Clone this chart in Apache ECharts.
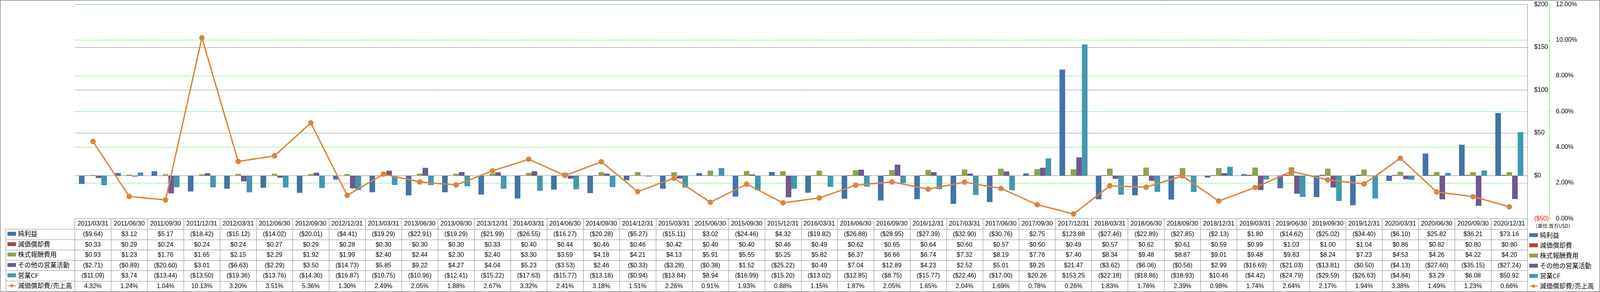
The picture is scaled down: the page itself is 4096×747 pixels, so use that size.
<!DOCTYPE html>
<html><head><meta charset="utf-8">
<script src="https://cdn.jsdelivr.net/npm/echarts@6/dist/echarts.min.js"></script>
<style>html,body{margin:0;padding:0;background:#fff;overflow:hidden}#c{width:4096px;height:747px}</style>
</head><body><div id="c"></div>
<script>
// ---- data ----
const categories = ['2011/03/31','2011/06/30','2011/09/30','2011/12/31','2012/03/31','2012/06/30','2012/09/30','2012/12/31','2013/03/31','2013/06/30','2013/09/30','2013/12/31','2014/03/31','2014/06/30','2014/09/30','2014/12/31','2015/03/31','2015/06/30','2015/09/30','2015/12/31','2016/03/31','2016/06/30','2016/09/30','2016/12/31','2017/03/31','2017/06/30','2017/09/30','2017/12/31','2018/03/31','2018/06/30','2018/09/30','2018/12/31','2019/03/31','2019/06/30','2019/09/30','2019/12/31','2020/03/31','2020/06/30','2020/09/30','2020/12/31'];
const netIncome = [-9.64,3.12,5.17,-18.42,-15.12,-14.02,-20.01,-4.41,-19.29,-22.91,-19.29,-21.99,-26.55,-16.27,-20.28,-5.27,-15.11,3.02,-24.46,4.32,-19.82,-26.88,-28.95,-27.39,-32.90,-30.76,2.75,123.88,-27.46,-22.89,-27.85,-2.13,1.80,-14.62,-25.02,-34.40,-6.10,25.82,36.21,73.16];
const depreciation = [0.33,0.29,0.24,0.24,0.24,0.27,0.29,0.28,0.30,0.30,0.30,0.33,0.40,0.44,0.46,0.46,0.42,0.40,0.40,0.46,0.49,0.62,0.65,0.64,0.60,0.57,0.50,0.49,0.57,0.62,0.61,0.59,0.99,1.03,1.00,1.04,0.86,0.82,0.80,0.80];
const stockComp = [0.93,1.23,1.76,1.65,2.15,2.29,1.92,1.99,2.40,2.44,2.30,2.40,3.30,3.59,4.18,4.21,4.13,5.91,5.55,5.25,5.82,6.37,6.66,6.74,7.32,8.19,7.76,7.40,8.34,9.48,8.87,9.01,9.48,9.83,8.24,7.23,4.53,4.26,4.22,4.20];
const otherOps = [-2.71,-0.89,-20.60,3.01,-6.63,-2.29,3.50,-14.73,5.85,9.22,4.27,4.04,5.23,-3.53,2.46,-0.33,-3.28,-0.38,1.52,-25.22,0.49,7.04,12.89,4.23,2.52,5.01,9.25,21.47,-3.62,-6.06,-0.56,2.99,-16.69,-21.03,-13.81,-0.50,-4.13,-27.60,-35.15,-27.24];
const operatingCF = [-11.09,3.74,-13.44,-13.50,-19.36,-13.76,-14.30,-16.87,-10.75,-10.96,-12.41,-15.22,-17.63,-15.77,-13.18,-0.94,-13.84,8.94,-16.99,-15.20,-13.02,-12.85,-8.75,-15.77,-22.46,-17.00,20.26,153.25,-22.18,-18.86,-18.93,10.46,-4.42,-24.79,-29.59,-26.63,-4.84,3.29,6.08,50.92];
const deprRatio = [4.32,1.24,1.04,10.13,3.20,3.51,5.36,1.30,2.49,2.05,1.88,2.67,3.32,2.41,3.18,1.51,2.26,0.91,1.93,0.88,1.15,1.87,2.05,1.65,2.04,1.69,0.78,0.26,1.83,1.76,2.39,0.98,1.74,2.64,2.17,1.94,3.38,1.49,1.23,0.66];
const seriesNames = ['純利益','減価償却費','株式報酬費用','その他の営業活動','営業CF','減価償却費/売上高'];
const usdAxis = [-50, 200, 50];   // min, max, interval
const pctAxis = [0, 12, 2];       // min, max, interval
const unitLabel = '（単位:百万USD）';

// ---- style / layout ----
const colors = ['#4572A7','#AA4643','#89A54E','#71588F','#4198AF','#DB843D'];
const GRAY = '#888888', GREEN = '#00e000';
const FONT = "'Liberation Sans', Arial, sans-serif";
const JFONT = "'Noto Sans CJK JP', sans-serif";
const gridLeft = 191.4, gridRightX = 3910.4, gridTop = 11.2, gridBottomY = 559.1;
const headerH = 27.3, rowH = 26.5;
const tableBottom = gridBottomY + headerH + 6 * rowH;

const fmtUSD = v => v < 0 ? '($' + (-v).toFixed(2) + ')' : '$' + v.toFixed(2);
const fmtPct = v => v.toFixed(2) + '%';
const rows = [
  netIncome.map(fmtUSD), depreciation.map(fmtUSD), stockComp.map(fmtUSD),
  otherOps.map(fmtUSD), operatingCF.map(fmtUSD), deprRatio.map(fmtPct)
];

const labelBase = {interval: 0, fontSize: 16, fontFamily: FONT, color: '#000', verticalAlign: 'middle'};
const xAxes = [{
  type: 'category', data: categories, position: 'bottom',
  axisLine: {onZero: false, lineStyle: {color: GRAY, width: 1}},
  axisTick: {show: true, length: tableBottom - gridBottomY, lineStyle: {color: GRAY, width: 1}},
  axisLabel: Object.assign({}, labelBase, {margin: headerH / 2}),
  splitLine: {show: false}
}];
rows.forEach((r, k) => {
  xAxes.push({
    type: 'category', data: categories, position: 'bottom', offset: headerH + k * rowH,
    axisLine: {onZero: false, lineStyle: {color: GRAY, width: 1}},
    axisTick: {show: false},
    axisLabel: Object.assign({}, labelBase, {margin: rowH / 2, formatter: (v, i) => r[i]}),
    splitLine: {show: false}
  });
});
xAxes.push({
  type: 'category', data: categories, position: 'bottom', offset: headerH + 6 * rowH,
  axisLine: {onZero: false, lineStyle: {color: GRAY, width: 1}},
  axisTick: {show: false}, axisLabel: {show: false}, splitLine: {show: false}
});

const barData = [netIncome, depreciation, stockComp, otherOps, operatingCF];
const series = barData.map((d, i) => ({
  type: 'bar', name: seriesNames[i], data: d, xAxisIndex: 0, yAxisIndex: 0,
  itemStyle: {color: colors[i]}, barGap: '0%', barCategoryGap: '23%'
}));
series.push({
  type: 'line', name: seriesNames[5], data: deprRatio, xAxisIndex: 0, yAxisIndex: 1,
  symbol: 'circle', symbolSize: 14, z: 10,
  lineStyle: {color: colors[5], width: 3.5}, itemStyle: {color: colors[5]}
});

const legendData = seriesNames.map((n, i) => i < 5 ? {name: n, icon: 'rect'} : {name: n});
const legendBase = {
  orient: 'vertical', itemWidth: 22, itemHeight: 10, padding: 0, selectedMode: false,
  textStyle: {fontSize: 16.5, fontFamily: JFONT, color: '#000', lineHeight: 20},
  data: legendData
};

const graphics = [
  {type: 'rect', shape: {x: 0.75, y: 0.75, width: 4094.5, height: 745}, style: {fill: 'none', stroke: GRAY, lineWidth: 1.5}, silent: true},
  {type: 'line', shape: {x1: 15.1, y1: gridBottomY + headerH, x2: 15.1, y2: tableBottom}, style: {stroke: GRAY, lineWidth: 1}, silent: true},
  {type: 'text', x: 3924, y: 578, style: {text: unitLabel, font: "12.5px 'Noto Sans CJK JP'", fill: '#000', verticalAlign: 'middle'}, silent: true}
];
for (let k = 0; k <= 6; k++) {
  const y = gridBottomY + headerH + k * rowH;
  graphics.push({type: 'line', shape: {x1: 15.1, y1: y, x2: gridLeft, y2: y}, style: {stroke: GRAY, lineWidth: 1}, silent: true});
}

const chart = echarts.init(document.getElementById('c'));
chart.setOption({
  animation: false,
  backgroundColor: '#fff',
  grid: {left: gridLeft, right: 4096 - gridRightX, top: gridTop, bottom: 747 - gridBottomY, containLabel: false},
  xAxis: xAxes,
  yAxis: [{
    type: 'value', position: 'right', min: usdAxis[0], max: usdAxis[1], interval: usdAxis[2],
    axisLine: {show: true, lineStyle: {color: GRAY, width: 1}},
    axisTick: {show: false},
    axisLabel: {margin: 17, fontSize: 16, fontFamily: FONT,
      color: v => Number(v) < 0 ? '#ff0000' : '#000',
      formatter: v => v < 0 ? '($' + (-v) + ')' : '$' + v},
    splitLine: {show: true, lineStyle: {color: GRAY, width: 1}}
  }, {
    type: 'value', position: 'right', offset: 55.7, min: pctAxis[0], max: pctAxis[1], interval: pctAxis[2],
    axisLine: {show: true, lineStyle: {color: GREEN, width: 1, type: [3, 2]}},
    axisTick: {show: true, length: 5, lineStyle: {color: GREEN, width: 1, type: [3, 2]}},
    axisLabel: {margin: 17, fontSize: 16, fontFamily: FONT, color: '#000', formatter: v => fmtPct(v)},
    splitLine: {show: true, lineStyle: {color: GREEN, width: 1, type: [3, 2]}}
  }],
  legend: [
    Object.assign({}, legendBase, {left: 18, top: 588, itemGap: 6.6}),
    Object.assign({}, legendBase, {left: 3914, top: 591.5, itemGap: 6.1})
  ],
  graphic: graphics,
  series: series
});
</script>
</body></html>
